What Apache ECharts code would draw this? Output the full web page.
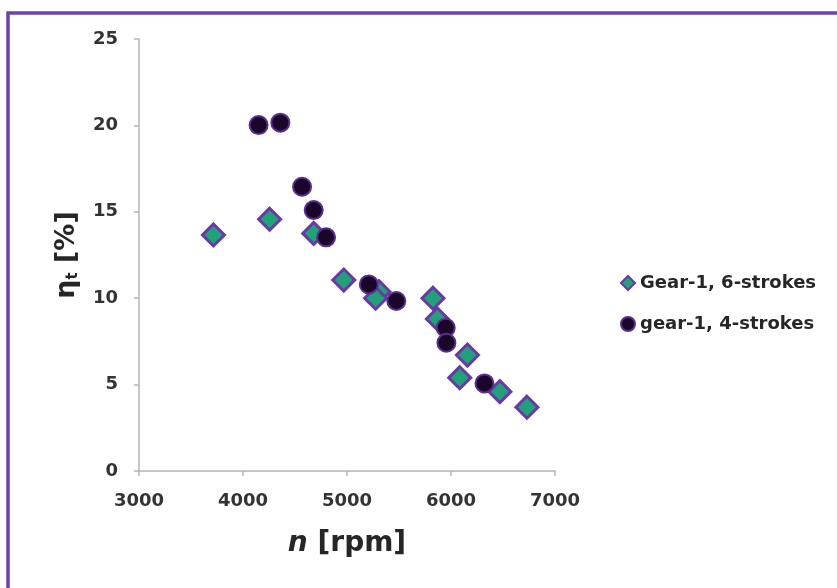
<!DOCTYPE html>
<html>
<head>
<meta charset="utf-8">
<script src="https://cdn.jsdelivr.net/npm/echarts@6/dist/echarts.min.js"></script>
<style>
html,body{margin:0;padding:0;background:#fff;}
#c{width:837px;height:588px;}
</style>
</head>
<body>
<div id="c"></div>
<script>
const seriesNames = ['Gear-1, 6-strokes', 'gear-1, 4-strokes'];
const sixX = [3716, 4256, 4680, 4969, 5307, 5275, 5827, 5869, 6158, 6084, 6470, 6730];
const sixY = [13.66, 14.57, 13.75, 11.05, 10.38, 10.0, 10.0, 8.8, 6.71, 5.4, 4.59, 3.69];
const fourX = [4150, 4359, 4568, 4680, 4799, 5210, 5474, 5949, 5956, 6322];
const fourY = [20.02, 20.16, 16.45, 15.1, 13.52, 10.8, 9.84, 8.29, 7.42, 5.07];
const xTicks = [3000, 4000, 5000, 6000, 7000];
const yTicks = [0, 5, 10, 15, 20, 25];

const FONT = 'DejaVu Sans';
const chart = echarts.init(document.getElementById('c'), null, {renderer: 'canvas'});
const pair = (xs, ys) => xs.map((x, i) => [x, ys[i]]);

chart.setOption({
  backgroundColor: '#fff',
  animation: false,
  graphic: [{
    type: 'rect',
    shape: {x: 8, y: 13, width: 900, height: 700},
    style: {fill: 'none', stroke: '#6d43ab', lineWidth: 3.5},
    z: 100
  }],
  grid: {left: 139, top: 39, right: 282, bottom: 117, containLabel: false},
  xAxis: {
    type: 'value',
    min: xTicks[0], max: xTicks[xTicks.length - 1], interval: 1000,
    splitLine: {show: false},
    axisLine: {show: true, lineStyle: {color: '#b5b5b5', width: 1.5}},
    axisTick: {show: true, length: 5, lineStyle: {color: '#b5b5b5', width: 1.5}},
    axisLabel: {margin: 21, fontFamily: FONT, fontWeight: 'bold', fontSize: 18, color: '#333',
                formatter: v => String(v)},
    name: '{i|n}{n| [rpm]}',
    nameLocation: 'middle',
    nameGap: 59,
    nameTextStyle: {
      rich: {
        i: {fontFamily: FONT, fontWeight: 'bold', fontStyle: 'italic', fontSize: 28, color: '#262626'},
        n: {fontFamily: FONT, fontWeight: 'bold', fontSize: 28, color: '#262626'}
      }
    }
  },
  yAxis: {
    type: 'value',
    min: yTicks[0], max: yTicks[yTicks.length - 1], interval: 5,
    splitLine: {show: false},
    axisLine: {show: true, lineStyle: {color: '#b5b5b5', width: 1.5}},
    axisTick: {show: true, length: 5, lineStyle: {color: '#b5b5b5', width: 1.5}},
    axisLabel: {margin: 21, fontFamily: FONT, fontWeight: 'bold', fontSize: 18, color: '#333'},
    name: '{n|η}{s|t}{n| [%]}',
    nameLocation: 'middle',
    nameGap: 58,
    nameRotate: 90,
    nameTextStyle: {
      rich: {
        n: {fontFamily: FONT, fontWeight: 'bold', fontSize: 27, color: '#262626'},
        s: {fontFamily: FONT, fontWeight: 'bold', fontSize: 15, color: '#262626', verticalAlign: 'bottom', padding: [13, 0, 0, 0]}
      }
    }
  },
  legend: {
    orient: 'vertical',
    left: 615, top: 269,
    itemGap: 23,
    itemWidth: 14, itemHeight: 14,
    textStyle: {fontFamily: FONT, fontWeight: 'bold', fontSize: 18, color: '#262626'},
    data: [
      {name: seriesNames[0], icon: 'diamond'},
      {name: seriesNames[1], icon: 'circle'}
    ]
  },
  series: [
    {
      name: seriesNames[0],
      type: 'scatter',
      symbol: 'diamond',
      symbolSize: [22, 22],
      data: pair(sixX, sixY),
      itemStyle: {color: '#21a079', borderColor: '#6a3aa4', borderWidth: 3, opacity: 1}
    },
    {
      name: seriesNames[1],
      type: 'scatter',
      symbol: 'circle',
      symbolSize: 18,
      data: pair(fourX, fourY),
      itemStyle: {color: '#1a0628', borderColor: '#5b2d8e', borderWidth: 2, opacity: 1}
    }
  ]
});
</script>
</body>
</html>
